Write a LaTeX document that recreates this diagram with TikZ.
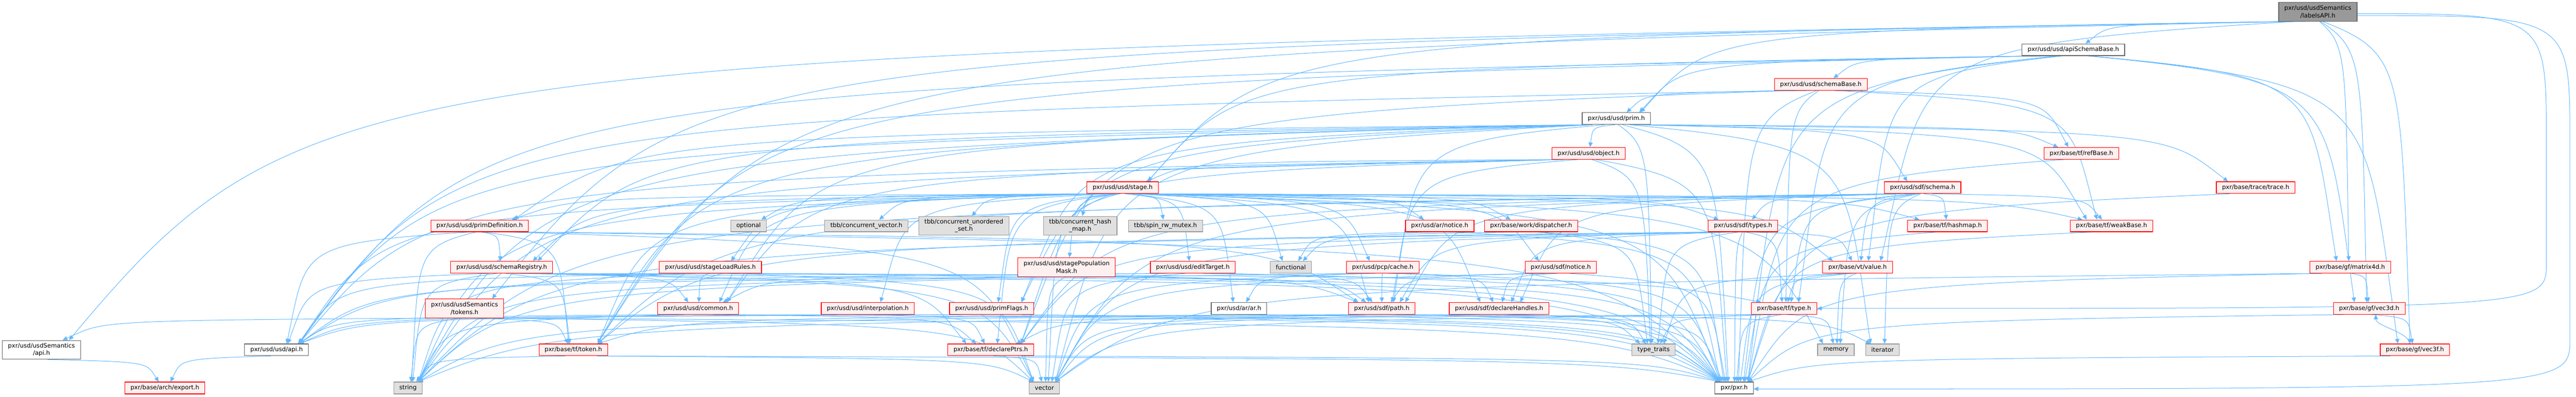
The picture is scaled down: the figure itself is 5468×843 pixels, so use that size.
\documentclass[tikz,border=0pt]{standalone}
\usepackage{fontspec}
\setmainfont{DejaVu Sans}
\usepackage{tikz}
\usetikzlibrary{arrows.meta}
\usetikzlibrary{calc}
\usepackage{xcolor}
\definecolor{edgeblue}{HTML}{63B8FF}
\definecolor{truncfill}{HTML}{FFF0F0}
\definecolor{sysfill}{HTML}{E0E0E0}
\definecolor{sysline}{HTML}{999999}
\definecolor{docline}{HTML}{666666}
\definecolor{rootfill}{HTML}{999999}
\pgfdeclarelayer{background}
\pgfsetlayers{background,main}

\begin{document}
\begin{tikzpicture}[x=1pt,y=-1pt,
  >={Triangle[length=10pt,width=9pt]},
  box/.style={font=\fontsize{12.8}{16}\selectfont, align=center, inner xsep=12pt, inner ysep=4pt, minimum height=25pt, line width=1.3pt},
  file/.style={box, draw=docline, fill=white},
  trunc/.style={box, draw=red, fill=truncfill},
  sys/.style={box, draw=sysline, fill=sysfill},
  rootbox/.style={box, draw=docline, fill=rootfill},
  twoline/.style={minimum height=40pt},
  dep/.style={draw=edgeblue, line width=1.1pt, ->}]
 \pgfmathsetmacro{\rowa}{25}
 \pgfmathsetmacro{\rowb}{105.6}
 \pgfmathsetmacro{\rowc}{179.2}
 \pgfmathsetmacro{\rowd}{251.8}
 \pgfmathsetmacro{\rowe}{325.7}
 \pgfmathsetmacro{\rowf}{398.5}
 \pgfmathsetmacro{\rowg}{479.6}
 \pgfmathsetmacro{\rowh}{567.5}
 \pgfmathsetmacro{\rowi}{655}
 \pgfmathsetmacro{\rowj}{743}
 \pgfmathsetmacro{\rowk}{824}
 \useasboundingbox (0,0) rectangle (5468,843);

 % rows 1-6
 \node[rootbox,twoline] (labels) at (4920,\rowa) {pxr/usd/usdSemantics\\/labelsAPI.h};
 \node[file] (apischema) at (4401,\rowb) {pxr/usd/usd/apiSchemaBase.h};
 \node[trunc] (schemabase) at (3865,\rowc) {pxr/usd/usd/schemaBase.h};
 \node[file] (prim) at (3431,\rowd) {pxr/usd/usd/prim.h};
 \node[trunc] (object) at (3372,\rowe) {pxr/usd/usd/object.h};
 \node[trunc] (refbase) at (4418,\rowe) {pxr/base/tf/refBase.h};
 \node[trunc] (stage) at (2383,\rowf) {pxr/usd/usd/stage.h};
 \node[trunc] (sdfschema) at (4081,\rowf) {pxr/usd/sdf/schema.h};
 \node[trunc] (trace) at (4788,\rowf) {pxr/base/trace/trace.h};

 % row 7
 \node[trunc] (primdef) at (1018,\rowg) {pxr/usd/usd/primDefinition.h};
 \node[sys] (optional) at (1589,\rowg) {optional};
 \node[sys] (convec) at (1839,\rowg) {tbb/concurrent\_vector.h};
 \node[sys,twoline] (conset) at (2046,\rowg) {tbb/concurrent\_unordered\\\_set.h};
 \node[sys,twoline] (hashmap) at (2293,\rowg) {tbb/concurrent\_hash\\\_map.h};
 \node[sys] (spinrw) at (2474,\rowg) {tbb/spin\_rw\_mutex.h};
 \node[trunc] (arnotice) at (3056,\rowg) {pxr/usd/ar/notice.h};
 \node[trunc] (dispatcher) at (3250,\rowg) {pxr/base/work/dispatcher.h};
 \node[trunc] (sdftypes) at (3700,\rowg) {pxr/usd/sdf/types.h};
 \node[trunc] (tfhashmap) at (4134,\rowg) {pxr/base/tf/hashmap.h};
 \node[trunc] (weakbase) at (4482,\rowg) {pxr/base/tf/weakBase.h};

 % row 8
 \node[trunc] (registry) at (1065,\rowh) {pxr/usd/usd/schemaRegistry.h};
 \node[trunc] (loadrules) at (1508,\rowh) {pxr/usd/usd/stageLoadRules.h};
 \node[trunc,twoline] (popmask) at (2264,\rowh) {pxr/usd/usd/stagePopulation\\Mask.h};
 \node[trunc] (edittarget) at (2532,\rowh) {pxr/usd/usd/editTarget.h};
 \node[sys] (functional) at (2740,\rowh) {functional};
 \node[trunc] (pcpcache) at (2935,\rowh) {pxr/usd/pcp/cache.h};
 \node[trunc] (sdfnotice) at (3313,\rowh) {pxr/usd/sdf/notice.h};
 \node[trunc] (vtvalue) at (3943,\rowh) {pxr/base/vt/value.h};
 \node[trunc] (matrix) at (4989,\rowh) {pxr/base/gf/matrix4d.h};

 % row 9
 \node[trunc,twoline] (tokens) at (986,\rowi) {pxr/usd/usdSemantics\\/tokens.h};
 \node[trunc] (common) at (1482,\rowi) {pxr/usd/usd/common.h};
 \node[trunc] (interp) at (1842,\rowi) {pxr/usd/usd/interpolation.h};
 \node[trunc] (primflags) at (2105,\rowi) {pxr/usd/usd/primFlags.h};
 \node[file] (arar) at (2630,\rowi) {pxr/usd/ar/ar.h};
 \node[trunc] (sdfpath) at (2933,\rowi) {pxr/usd/sdf/path.h};
 \node[trunc] (declhandles) at (3182,\rowi) {pxr/usd/sdf/declareHandles.h};
 \node[trunc] (tftype) at (3787,\rowi) {pxr/base/tf/type.h};
 \node[trunc] (vec3d) at (5029,\rowi) {pxr/base/gf/vec3d.h};

 % row 10
 \node[file,twoline] (semapi) at (88,\rowj) {pxr/usd/usdSemantics\\/api.h};
 \node[file] (usdapi) at (587,\rowj) {pxr/usd/usd/api.h};
 \node[trunc] (token) at (1217,\rowj) {pxr/base/tf/token.h};
 \node[trunc] (declptrs) at (2103,\rowj) {pxr/base/tf/declarePtrs.h};
 \node[sys] (typetraits) at (3510,\rowj) {type\_traits};
 \node[sys] (memory) at (3897,\rowj) {memory};
 \node[sys] (iterator) at (3996,\rowj) {iterator};
 \node[trunc] (vec3f) at (5126,\rowj) {pxr/base/gf/vec3f.h};

 % row 11
 \node[trunc] (export) at (350,\rowk) {pxr/base/arch/export.h};
 \node[sys] (string) at (866,\rowk) {string};
 \node[sys] (vector) at (2217,\rowk) {vector};
 \node[file] (pxrh) at (3681,\rowk) {pxr/pxr.h};

 \begin{pgfonlayer}{background}
 \foreach \src/\dst in {labels/semapi, labels/apischema, labels/prim, labels/stage, labels/tokens, labels/vtvalue, labels/vec3d, labels/vec3f, labels/matrix, labels/token,
  apischema/pxrh, apischema/usdapi, apischema/schemabase, apischema/prim, apischema/stage, apischema/vtvalue, apischema/vec3d, apischema/vec3f, apischema/matrix, apischema/token, apischema/tftype,
  schemabase/pxrh, schemabase/usdapi, schemabase/prim, schemabase/declptrs, schemabase/refbase, schemabase/tftype, schemabase/weakbase,
  prim/pxrh, prim/usdapi, prim/object, prim/primflags, prim/registry, prim/primdef, prim/common, prim/sdfschema, prim/trace, prim/declptrs, prim/refbase, prim/token, prim/weakbase, prim/sdfpath, prim/typetraits, prim/iterator, prim/vector, prim/string,
  object/pxrh, object/usdapi, object/stage, object/common, object/primflags, object/sdfpath, object/typetraits, object/string,
  refbase/pxrh, trace/pxrh, tfhashmap/pxrh, weakbase/pxrh, arar/pxrh,
  stage/pxrh, stage/usdapi, stage/common, stage/edittarget, stage/interp, stage/registry, stage/loadrules, stage/popmask, stage/primflags, stage/primdef, stage/declptrs, stage/tfhashmap, stage/weakbase, stage/arar, stage/arnotice, stage/pcpcache, stage/declhandles, stage/sdfnotice, stage/sdfpath, stage/sdftypes, stage/vtvalue, stage/dispatcher, stage/convec, stage/conset, stage/hashmap, stage/spinrw, stage/functional, stage/string, stage/memory, stage/optional, stage/vector, stage/token,
  sdfschema/pxrh, sdfschema/sdftypes, sdfschema/tfhashmap, sdfschema/vtvalue, sdfschema/tftype, sdfschema/declhandles, sdfschema/sdfpath, sdfschema/token, sdfschema/declptrs, sdfschema/weakbase, sdfschema/memory, sdfschema/string, sdfschema/vector, sdfschema/iterator,
  primdef/pxrh, primdef/usdapi, primdef/registry, primdef/token, primdef/sdfpath, primdef/string, primdef/vector,
  arnotice/pxrh, arnotice/functional, dispatcher/pxrh, dispatcher/functional, dispatcher/typetraits,
  sdftypes/pxrh, sdftypes/sdfpath, sdftypes/declhandles, sdftypes/tftype, sdftypes/vtvalue, sdftypes/token, sdftypes/string, sdftypes/vector, sdftypes/typetraits, sdftypes/declptrs,
  registry/pxrh, registry/usdapi, registry/common, registry/token, registry/declptrs, registry/tftype, registry/string, registry/vector,
  loadrules/pxrh, loadrules/usdapi, loadrules/common, loadrules/sdfpath, loadrules/string, loadrules/vector,
  popmask/pxrh, popmask/usdapi, popmask/sdfpath, popmask/string, popmask/vector,
  edittarget/pxrh, edittarget/usdapi, edittarget/common, edittarget/sdfpath, edittarget/vector,
  pcpcache/pxrh, pcpcache/arar, pcpcache/sdfpath, pcpcache/declhandles, pcpcache/string, pcpcache/vector,
  sdfnotice/pxrh, sdfnotice/sdfpath, sdfnotice/declhandles, sdfnotice/vector,
  vtvalue/pxrh, vtvalue/tftype, vtvalue/typetraits, vtvalue/memory,
  matrix/pxrh, matrix/vec3d, matrix/vector,
  tokens/pxrh, tokens/semapi, tokens/token, tokens/string, tokens/vector,
  common/pxrh, common/usdapi, common/declptrs, common/string,
  interp/pxrh, interp/usdapi, interp/declptrs, primflags/pxrh, primflags/usdapi,
  sdfpath/pxrh, sdfpath/token, sdfpath/string, sdfpath/vector, sdfpath/iterator, sdfpath/typetraits,
  declhandles/pxrh, declhandles/declptrs, declhandles/typetraits, declhandles/vector,
  tftype/pxrh, tftype/typetraits, tftype/memory, tftype/vector, tftype/string,
  vec3d/pxrh, vec3d/vec3f, vec3f/pxrh,
  semapi/export, usdapi/export,
  token/pxrh, token/string, token/vector,
  declptrs/pxrh, declptrs/vector}{
  \path[dep] let \p1=(\src.south), \p2=(\src.south east), \p3=(\dst.north), \p4=(\dst.north east),
    \n1={max(-0.7*(\x2-\x1), min(0.7*(\x2-\x1), 0.05*(\x3-\x1)))},
    \n2={max(-0.7*(\x4-\x3), min(0.7*(\x4-\x3), 0.05*(\x1-\x3)))},
    \n3={0.85*(\x3-\x1)}, \n4={-0.1*(\y1-\y3)},
    \n5={0.1*(\x1-\x3)}, \n6={0.85*(\y1-\y3)}
    in (\x1+\n1,\y1) .. controls +(\n3,\n4) and +(\n5,\n6) .. (\x3+\n2,\y3);
 }
 % root edges that wrap round the right margin
 \coordinate (rima) at (5455,300);
 \coordinate (rimb) at (5455,720);
 \coordinate (rimc) at (5405,300);
 \coordinate (rimd) at (5405,560);
 \draw[dep] ([yshift=-8pt]labels.east) .. controls (5455,33) .. (rima) -- (rimb) .. controls (5455,826) .. ([yshift=-2pt]pxrh.east);
 \draw[dep] ([yshift=-4pt]labels.east) .. controls (5405,29) .. (rimc) -- (rimd) .. controls (5405,655) .. (tftype.east);
 \draw[dep] ([xshift=-12pt]vec3f.north) .. controls +(0,-25) and +(0,25) .. ([xshift=14pt]vec3d.south);
 \end{pgfonlayer}

\end{tikzpicture}
\end{document}
